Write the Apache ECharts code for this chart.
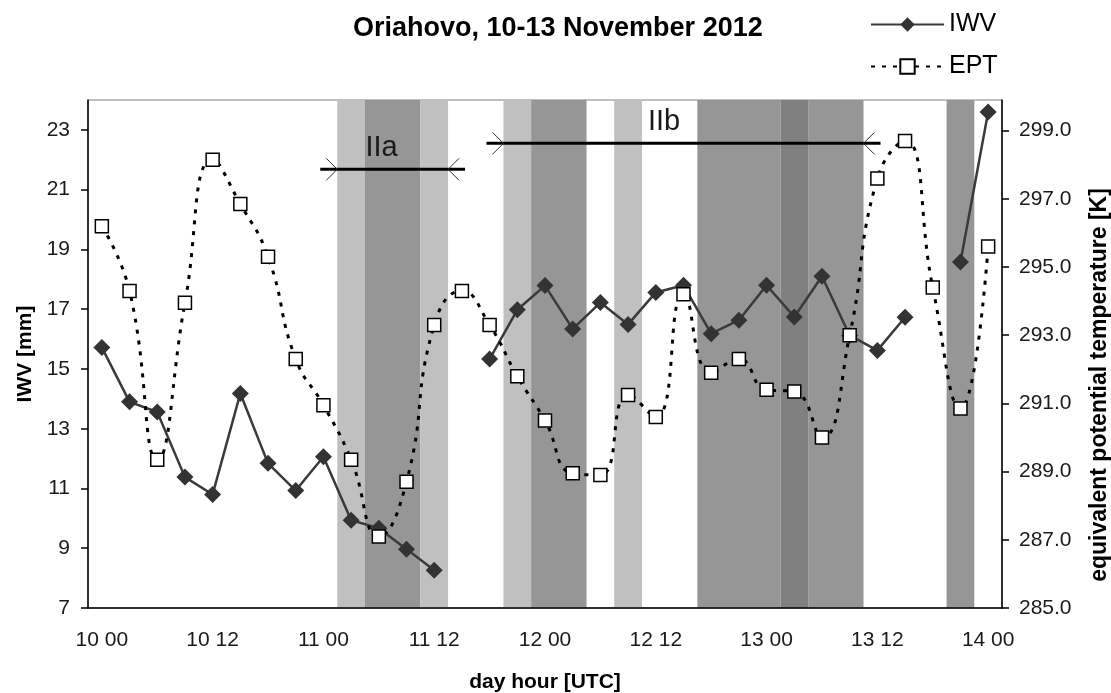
<!DOCTYPE html>
<html>
<head>
<meta charset="utf-8">
<script src="https://cdn.jsdelivr.net/npm/echarts@6/dist/echarts.min.js"></script>
<style>
  html, body { margin: 0; padding: 0; background: #fff; }
  #chart { width: 1111px; height: 693px; }
</style>
</head>
<body>
<div id="chart"></div>
<script>
// ---- data ----
const categories = ['10 00','10 03','10 06','10 09','10 12','10 15','10 18','10 21',
  '11 00','11 03','11 06','11 09','11 12','11 15','11 18','11 21',
  '12 00','12 03','12 06','12 09','12 12','12 15','12 18','12 21',
  '13 00','13 03','13 06','13 09','13 12','13 15','13 18','13 21','14 00'];

const iwv = [15.72, 13.9, 13.56, 11.38, 10.8, 14.18, 11.84, 10.93,
  12.06, 9.94, 9.67, 8.97, 8.26, null, 15.33, 16.98,
  17.79, 16.34, 17.22, 16.49, 17.56, 17.8, 16.18, 16.63,
  17.8, 16.74, 18.1, 16.12, 15.62, 16.73, null, 18.58, 23.6];

const ept = [296.2, 294.3, 289.35, 293.95, 298.15, 296.85, 295.3, 292.3,
  290.95, 289.35, 287.1, 288.7, 293.3, 294.3, 293.3, 291.8,
  290.5, 288.95, 288.9, 291.25, 290.6, 294.2, 291.9, 292.3,
  291.4, 291.35, 290.0, 293.0, 297.6, 298.7, 294.4, 290.85, 295.6];

const iwvTicks = { min: 7, max: 24, step: 2 };
const eptTicks = { min: 285, max: 299.9, step: 2 };

// shaded periods, in 3-hour category boundaries (0 = start of 10 00 slot)
const shadeStart = [9, 10, 12, 15, 16, 19, 22, 25, 26, 31];
const shadeEnd   = [10, 12, 13, 16, 18, 20, 25, 26, 28, 32];
const shadeTone  = [0, 1, 0, 0, 1, 0, 1, 2, 1, 1];

// bracketed episodes
const periodNames = ['IIa', 'IIb'];
const periodStart = [9, 15];
const periodEnd   = [13, 28];
const periodLevel = [21.68, 22.55];   // IWV units
const periodLabelAt = [10.6, 20.8];

// ---- styles ----
const toneColors = ['#c0c0c0', '#969696', '#808080'];
const FONT = '"Liberation Sans", Arial, sans-serif';
const TXT = '#1a1a1a';

const chart = echarts.init(document.getElementById('chart'), null, { renderer: 'canvas' });

const shadeData = shadeStart.map((s, i) => [s, shadeEnd[i], shadeTone[i]]);
const bracketData = periodStart.map((s, i) => [s, periodEnd[i], periodLevel[i], periodLabelAt[i]]);

const option = {
  animation: false,
  backgroundColor: '#fff',
  title: {
    text: 'Oriahovo, 10-13 November 2012',
    left: 353, top: 15, padding: 0,
    textStyle: { fontFamily: FONT, fontSize: 27, fontWeight: 'bold', color: '#000' }
  },
  legend: {
    data: ['IWV', 'EPT'],
    orient: 'vertical',
    left: 870, top: 12, padding: 0,
    itemWidth: 73, itemHeight: 18, itemGap: 17,
    textStyle: { fontFamily: FONT, fontSize: 25, color: '#000', lineHeight: 24 }
  },
  grid: {
    left: 88, right: 109, top: 100, bottom: 85,
    containLabel: false, outerBoundsMode: 'none',
    show: true, borderColor: '#808080', borderWidth: 1, backgroundColor: 'transparent'
  },
  graphic: [{
    type: 'text',
    x: 1100, y: 385,
    rotation: Math.PI / 2,
    style: {
      text: 'equivalent potential temperature [K]',
      fontFamily: FONT, fontSize: 23, fontWeight: 'bold', fill: '#000',
      align: 'center', verticalAlign: 'middle'
    }
  }],
  xAxis: [{
    type: 'category',
    data: categories,
    boundaryGap: true,
    z: 10,
    axisLine: { lineStyle: { color: '#000', width: 1.5 } },
    axisTick: { interval: 0, length: 8, lineStyle: { color: '#000', width: 1.5 } },
    axisLabel: { interval: 3, margin: 22, fontFamily: FONT, fontSize: 21, color: TXT },
    splitLine: { show: false },
    name: 'day hour [UTC]',
    nameLocation: 'middle', nameGap: 64,
    nameTextStyle: { fontFamily: FONT, fontSize: 21, fontWeight: 'bold', color: '#000' }
  }, {
    type: 'value', min: 0, max: 33, show: false
  }],
  yAxis: [{
    type: 'value',
    min: iwvTicks.min, max: iwvTicks.max, interval: iwvTicks.step,
    z: 10,
    axisLine: { show: true, lineStyle: { color: '#000', width: 1.5 } },
    axisTick: { show: true, length: 7, lineStyle: { color: '#000', width: 1.5 } },
    axisLabel: { margin: 18, showMaxLabel: false, fontFamily: FONT, fontSize: 21, color: TXT },
    splitLine: { show: false },
    name: 'IWV [mm]',
    nameLocation: 'middle', nameGap: 52,
    nameTextStyle: { fontFamily: FONT, fontSize: 21, fontWeight: 'bold', color: '#000' }
  }, {
    type: 'value', position: 'right',
    min: eptTicks.min, max: eptTicks.max, interval: eptTicks.step,
    z: 10,
    axisLine: { show: true, lineStyle: { color: '#000', width: 1.5 } },
    axisTick: { show: true, length: 7, lineStyle: { color: '#000', width: 1.5 } },
    axisLabel: { margin: 17, showMaxLabel: false, fontFamily: FONT, fontSize: 21, color: TXT,
      formatter: v => v.toFixed(1) },
    splitLine: { show: false }
  }],
  series: [{
    type: 'custom',
    xAxisIndex: 1, yAxisIndex: 0,
    silent: true, z: 1,
    data: shadeData,
    encode: { x: [0, 1] },
    renderItem: function (params, api) {
      const x0 = api.coord([api.value(0), iwvTicks.min])[0];
      const x1 = api.coord([api.value(1), iwvTicks.min])[0];
      const cs = params.coordSys;
      return {
        type: 'rect',
        shape: { x: x0, y: cs.y, width: x1 - x0, height: cs.height },
        style: { fill: toneColors[api.value(2)] }
      };
    }
  }, {
    type: 'custom',
    xAxisIndex: 1, yAxisIndex: 0,
    silent: true, z: 6,
    data: bracketData,
    encode: { x: [0, 1], y: 2 },
    renderItem: function (params, api) {
      const lvl = api.value(2);
      const a = api.coord([api.value(0), lvl]);
      const b = api.coord([api.value(1), lvl]);
      const t = api.coord([api.value(3), lvl]);
      const tail = 17, arm = 11;
      return {
        type: 'group',
        children: [{
          type: 'line',
          shape: { x1: a[0] - tail, y1: a[1], x2: b[0] + tail, y2: b[1] },
          style: { stroke: '#000', lineWidth: 3 }
        }, {
          type: 'polyline',
          shape: { points: [[a[0] - arm, a[1] - arm], [a[0], a[1]], [a[0] - arm, a[1] + arm]] },
          style: { stroke: '#333', lineWidth: 1, fill: null }
        }, {
          type: 'polyline',
          shape: { points: [[b[0] + arm, b[1] - arm], [b[0], b[1]], [b[0] + arm, b[1] + arm]] },
          style: { stroke: '#333', lineWidth: 1, fill: null }
        }, {
          type: 'text',
          style: {
            x: t[0], y: t[1] - 21,
            text: periodNames[params.dataIndex],
            fontFamily: FONT, fontSize: 29, fill: TXT,
            align: 'center', verticalAlign: 'middle'
          }
        }]
      };
    }
  }, {
    name: 'IWV',
    type: 'line',
    xAxisIndex: 0, yAxisIndex: 0,
    data: iwv,
    connectNulls: false,
    symbol: 'diamond', symbolSize: 17,
    itemStyle: { color: '#333333' },
    lineStyle: { color: '#3a3a3a', width: 2.5 },
    z: 3
  }, {
    name: 'EPT',
    type: 'line',
    xAxisIndex: 0, yAxisIndex: 1,
    data: ept,
    smooth: 0.5,
    symbol: 'rect', symbolSize: 13,
    itemStyle: { color: '#ffffff', borderColor: '#000', borderWidth: 1.5 },
    lineStyle: { color: '#000', width: 3, type: [4, 7] },
    z: 4
  }]
};

chart.setOption(option);
</script>
</body>
</html>
